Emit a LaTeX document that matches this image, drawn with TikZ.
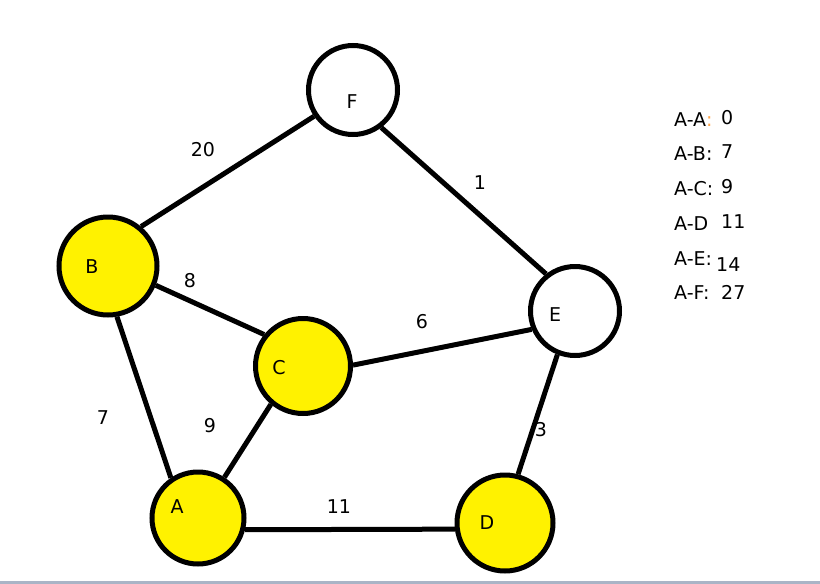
\documentclass[tikz,border=0pt]{standalone}
\usepackage{fontspec}
\setmainfont{DejaVu Sans}
\usetikzlibrary{positioning}
\definecolor{gulfarge}{RGB}{255,242,0}
\definecolor{bunnfarge}{RGB}{170,180,198}
\tikzset{
    %Define style for the vertices
    sirkel/.style={
           circle,
           draw=black, line width=5pt,
           inner sep=0pt},
    gul/.style={sirkel, fill=gulfarge},
    hvit/.style={sirkel, fill=white},
    %Define style for the letters and weights
    tekst/.style={
           font=\fontsize{19}{21}\selectfont,
           inner sep=0pt},
    % Define edge style
    kant/.style={
           line width=5pt,}
}
\begin{document}
\begin{tikzpicture}[x=1pt, y=-1pt]
    \useasboundingbox (0,0) rectangle (820,584);
    \fill[bunnfarge] (0,581) rectangle (820,584);
    % vertices
    \node[hvit, minimum size=89pt,
        label={[tekst, xshift=-1pt, yshift=-12pt]center:F}] (F) at (353,90) {};
    \node[gul, minimum size=98pt,
        label={[tekst, xshift=-16pt, yshift=-1pt]center:B}] (B) at (108,266) {};
    \node[gul, minimum size=95pt,
        label={[tekst, xshift=-24pt, yshift=-2pt]center:C}] (C) at (303,366) {};
    \node[hvit, minimum size=89pt,
        label={[tekst, xshift=-20pt, yshift=-4pt]center:E}] (E) at (575,311) {};
    \node[gul, minimum size=92pt,
        label={[tekst, xshift=-21pt, yshift=11pt]center:A}] (A) at (198,518) {};
    \node[gul, minimum size=96pt,
        label={[tekst, xshift=-18pt]center:D}] (D) at (505,523) {};
    % edges
    \draw[kant] (B.50) -- (F.214);
    \draw[kant] (F.307) -- (E.128);
    \draw[kant] (B.338) -- (C.141);
    \draw[kant] (C.1) -- (E.203);
    \draw[kant] (C.230) -- (A.57);
    \draw[kant] (B.280) -- (A.124);
    \draw[kant] (A.346) -- (D.187);
    \draw[kant] (E.248) -- (D.75);
    % weights
    \node[tekst] (wBF) at (203,150) {20};
    \node[tekst] (wFE) at (480,183) {1};
    \node[tekst] (wBC) at (190,281) {8};
    \node[tekst] (wCE) at (422,322) {6};
    \node[tekst] (wBA) at (103,418) {7};
    \node[tekst] (wCA) at (210,426) {9};
    \node[tekst] (wED) at (541,430) {3};
    \node[tekst] (wAD) at (339,507) {11};
    % distances from A
    \node[tekst, anchor=base west] (lAA) at (674,126) {A-A\textcolor{orange!70}{:}};
    \node[tekst, anchor=base west] (lAB) at (674,160) {A-B:};
    \node[tekst, anchor=base west] (lAC) at (674,195) {A-C:};
    \node[tekst, anchor=base west] (lAD) at (674,230) {A-D};
    \node[tekst, anchor=base west] (lAE) at (674,265) {A-E:};
    \node[tekst, anchor=base west] (lAF) at (674,299) {A-F:};
    \node[tekst, anchor=base west] (dAA) at (721,124) {0};
    \node[tekst, anchor=base west] (dAB) at (721,158) {7};
    \node[tekst, anchor=base west] (dAC) at (721,193) {9};
    \node[tekst, anchor=base west] (dAD) at (721,228) {11};
    \node[tekst, anchor=base west] (dAE) at (716,271) {14};
    \node[tekst, anchor=base west] (dAF) at (721,299) {27};
\end{tikzpicture}
\end{document}
